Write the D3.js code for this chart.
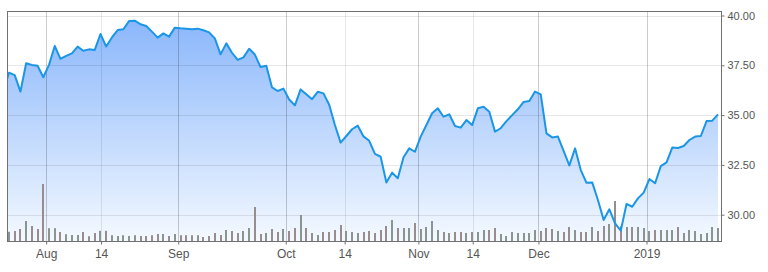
<!DOCTYPE html>
<html lang="en">
<head>
<meta charset="utf-8">
<title>Price</title>
<style>
body { margin: 0; background: #fff; }
svg text { font-family: "Liberation Sans", Arial, sans-serif; }
</style>
</head>
<body>
<script src="https://cdn.jsdelivr.net/npm/d3@7"></script>
<script>

// closing prices, one per session; the first one lies just left of the frame
var firstSession = -1;
var prices = [36.2,
  37.13, 37.01, 36.18, 37.60, 37.52, 37.48, 36.90, 37.52, 38.47, 37.82,
  37.97, 38.10, 38.44, 38.23, 38.30, 38.27, 39.07, 38.44, 38.90, 39.27,
  39.31, 39.72, 39.74, 39.56, 39.47, 39.19, 38.89, 39.10, 38.94, 39.39,
  39.36, 39.34, 39.31, 39.34, 39.26, 39.15, 38.85, 38.05, 38.60, 38.13,
  37.77, 37.90, 38.33, 38.04, 37.41, 37.48, 36.39, 36.21, 36.33, 35.78,
  35.49, 36.29, 36.05, 35.80, 36.17, 36.09, 35.52, 34.50, 33.62, 33.95,
  34.29, 34.47, 33.93, 33.71, 33.05, 32.91, 31.62, 32.11, 31.83, 32.88,
  33.33, 33.16, 33.92, 34.50, 35.09, 35.34, 34.92, 35.04, 34.45, 34.37,
  34.75, 34.50, 35.34, 35.42, 35.17, 34.17, 34.34, 34.70, 35.00, 35.29,
  35.66, 35.71, 36.18, 36.04, 34.08, 33.88, 33.92, 33.20, 32.47, 33.33,
  32.24, 31.60, 31.62, 30.74, 29.73, 30.27, 29.57, 29.20, 30.54, 30.40,
  30.82, 31.11, 31.79, 31.58, 32.44, 32.63, 33.37, 33.35, 33.45, 33.75,
  33.92, 33.95, 34.70, 34.72, 35.04];

// volume in millions, sessions 0..124
var volumes = [
  4.6, 5.0, 6.0, 10.0, 7.5, 6.0, 28.5, 6.4, 6.4, 4.5,
  3.4, 3.0, 3.0, 4.5, 2.4, 4.0, 5.1, 5.1, 2.9, 2.5,
  2.9, 2.5, 2.9, 2.5, 2.5, 2.9, 3.5, 3.5, 2.5, 3.5,
  2.9, 2.9, 2.9, 2.9, 2.0, 2.5, 4.0, 3.0, 5.5, 5.0,
  4.0, 5.0, 6.5, 17.0, 3.5, 4.0, 6.0, 4.5, 6.0, 5.0,
  6.5, 13.0, 6.5, 4.0, 3.0, 4.5, 4.5, 5.5, 8.0, 5.0,
  4.5, 4.0, 4.5, 5.0, 4.0, 5.5, 7.5, 10.5, 6.5, 6.5,
  6.5, 9.0, 6.0, 7.0, 10.0, 5.5, 4.5, 4.0, 4.5, 4.5,
  4.0, 4.5, 4.5, 5.5, 5.5, 6.5, 3.5, 2.5, 4.5, 4.0,
  4.0, 4.0, 5.5, 5.0, 6.5, 6.0, 5.0, 4.5, 7.0, 5.5,
  4.5, 4.5, 7.0, 5.0, 7.5, 8.5, 20.0, 7.5, 7.0, 7.0,
  7.0, 6.5, 5.0, 5.5, 5.5, 5.5, 5.5, 7.0, 4.0, 5.5,
  5.0, 3.5, 4.0, 7.0, 6.5];

var tickLabels = ["Aug", "14", "Sep", "Oct", "14", "Nov", "14", "Dec", "2019"];
var tickSessions = [6.5, 16.1, 29.6, 48.4, 58.7, 71.6, 81.1, 92.6, 111.5];
var tickMajor = [true, false, true, true, false, true, false, true, true];
var yTicks = [30, 32.5, 35, 37.5, 40];

var w = 768, h = 272;
var px0 = 7, px1 = 721, py0 = 11, py1 = 241; // plot frame

var x = d3.scaleLinear().domain([0, 124]).range([9, 718]);
var y = d3.scaleLinear().domain([30, 40]).range([214.7, 15.5]);
var v = d3.scaleLinear().domain([0, 40]).range([py1, py1 - 80]);

var svg = d3.select("body").append("svg").attr("width", w).attr("height", h);

var defs = svg.append("defs");
defs.append("clipPath").attr("id", "plot")
  .append("rect").attr("x", px0).attr("y", py0).attr("width", px1 - px0).attr("height", py1 - py0);
var grad = defs.append("linearGradient").attr("id", "fill")
  .attr("gradientUnits", "userSpaceOnUse")
  .attr("x1", 0).attr("y1", py0).attr("x2", 0).attr("y2", py1);
grad.append("stop").attr("offset", 0).attr("stop-color", "#86b4fb");
grad.append("stop").attr("offset", 1).attr("stop-color", "#f4f9ff");

var pts = prices.map(function(p, i) { return {s: i + firstSession, p: p}; });

var plot = svg.append("g").attr("clip-path", "url(#plot)");

// area under the price line
plot.append("path").datum(pts)
  .attr("fill", "url(#fill)")
  .attr("d", d3.area().x(function(d) { return x(d.s); }).y0(py1).y1(function(d) { return y(d.p); }));

// grid
plot.selectAll(".hgrid").data(yTicks).enter().append("line")
  .attr("x1", px0).attr("x2", px1)
  .attr("y1", function(d) { return Math.round(y(d)) + 0.5; })
  .attr("y2", function(d) { return Math.round(y(d)) + 0.5; })
  .attr("stroke", "rgba(0,0,0,0.09)");
plot.selectAll(".vgrid").data(tickSessions).enter().append("line")
  .attr("x1", function(d) { return Math.round(x(d)) + 0.5; })
  .attr("x2", function(d) { return Math.round(x(d)) + 0.5; })
  .attr("y1", py0).attr("y2", py1)
  .attr("stroke", function(d, i) { return tickMajor[i] ? "rgba(0,0,0,0.2)" : "rgba(0,0,0,0.09)"; });

// volume bars
plot.selectAll(".vol").data(volumes).enter().append("rect")
  .attr("x", function(d, i) { return Math.round(x(i)) - 1; })
  .attr("y", function(d) { return v(d); })
  .attr("width", 2)
  .attr("height", function(d) { return py1 - v(d); })
  .attr("fill", function(d, i) { return prices[i + 1] >= prices[i] ? "#8a9590" : "#998c8e"; });

// price line
plot.append("path").datum(pts)
  .attr("fill", "none")
  .attr("stroke", "#1b96e6")
  .attr("stroke-width", 2)
  .attr("stroke-linejoin", "round")
  .attr("d", d3.line().x(function(d) { return x(d.s); }).y(function(d) { return y(d.p); }));

// frame
svg.append("rect")
  .attr("x", px0 + 0.5).attr("y", py0 + 0.5)
  .attr("width", px1 - px0).attr("height", py1 - py0)
  .attr("fill", "none").attr("stroke", "#707070");

// right axis
var yAxis = d3.axisRight(y).tickValues(yTicks).tickSize(3).tickPadding(3)
  .tickFormat(d3.format(".2f"));
var ya = svg.append("g").attr("transform", "translate(" + (px1 + 0.5) + ",0)").call(yAxis);
ya.attr("font-family", null).attr("font-size", null);
ya.select(".domain").remove();
ya.selectAll("line").attr("stroke", "#707070");
ya.selectAll("text").attr("font-size", "11px").attr("fill", "#555");

// bottom axis
var xAxis = d3.axisBottom(x).tickValues(tickSessions).tickSize(3).tickPadding(5)
  .tickFormat(function(d, i) { return tickLabels[i]; });
var xa = svg.append("g").attr("transform", "translate(0," + (py1 + 0.5) + ")").call(xAxis);
xa.attr("font-family", null).attr("font-size", null);
xa.select(".domain").remove();
xa.selectAll("line").attr("stroke", "#707070");
xa.selectAll("text").attr("font-size", "12px").attr("fill", "#555");

</script>
</body>
</html>
